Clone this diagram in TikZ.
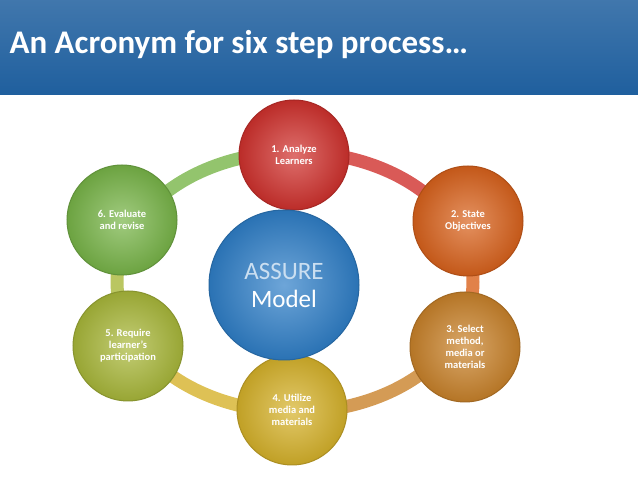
\documentclass[tikz,border=0pt]{standalone}
\usepackage{fontspec}
\setmainfont{Carlito}
\usetikzlibrary{positioning}
\definecolor{barblue}{HTML}{1F5F9E}
\definecolor{cred}{HTML}{D0312D}
\definecolor{corange}{HTML}{D9621C}
\definecolor{cbrown}{HTML}{C9822A}
\definecolor{cgold}{HTML}{D6B22A}
\definecolor{colive}{HTML}{A9B83A}
\definecolor{cgreen}{HTML}{78B548}
\definecolor{cblue}{HTML}{2F7FC8}
\tikzset{
  stepball/.style={circle, minimum size=110pt, inner sep=0pt, text=white,
    font=\bfseries\fontsize{10.5}{12}\selectfont, align=center,
    inner color=#1!70!white, outer color=#1!90!black, draw=#1!80!black, line width=1pt},
  band/.style={line width=13pt, draw=#1}
}
\begin{document}
\begin{tikzpicture}[x=1pt,y=1pt]
      \useasboundingbox (0,0) rectangle (638,479);
      \fill[white] (0,0) rectangle (638,479);
      \shade[top color=barblue!85!white, bottom color=barblue] (0,384) rectangle (638,479);
      \node[anchor=west, text=white, font=\bfseries\fontsize{33}{36}\selectfont] (title) at (6,434) {An Acronym for six step process…};
      % ring
      \begin{scope}[shift={(295,197)}]
        \draw[band=cred!80] (90:178 and 130) arc (90:30:178 and 130);
        \draw[band=corange!80] (30:178 and 130) arc (30:-30:178 and 130);
        \draw[band=cbrown!80] (-30:178 and 130) arc (-30:-90:178 and 130);
        \draw[band=cgold!80] (-90:178 and 130) arc (-90:-150:178 and 130);
        \draw[band=colive!80] (-150:178 and 130) arc (-150:-210:178 and 130);
        \draw[band=cgreen!80] (150:178 and 130) arc (150:90:178 and 130);
      \end{scope}
      % steps
      \node[stepball=cred] (analyze) at (294,324) {1. Analyze\\Learners};
      \node[stepball=corange] (state) at (468,258) {2. State\\Objectives};
      \node[stepball=cbrown] (select) at (465,132) {3. Select\\method,\\media or\\materials};
      \node[stepball=cgold] (utilize) at (292,69) {4. Utilize\\media and\\materials};
      \node[stepball=colive] (require) at (128,133) {5. Require\\learner’s\\participation};
      \node[stepball=cgreen] (evaluate) at (122,259) {6. Evaluate\\and revise};
      \node[stepball=cblue, minimum size=150pt, font=\fontsize{25}{28}\selectfont] (model) at (284,194)
        {{\color{cblue!25!white}ASSURE}\\Model};
\end{tikzpicture}
\end{document}
